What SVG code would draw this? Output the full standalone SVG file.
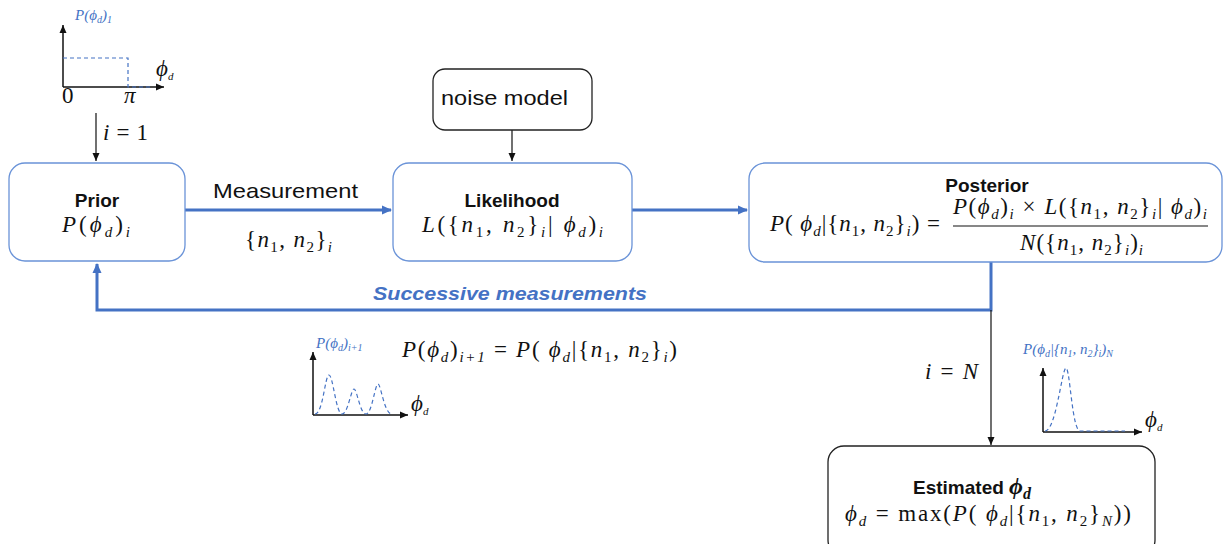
<svg xmlns="http://www.w3.org/2000/svg" width="1227" height="544" viewBox="0 0 1227 544">
<style>
.bbox{fill:#fff;stroke:#6a93d8;stroke-width:1.3}
.kbox{fill:#fff;stroke:#222;stroke-width:1.3}
.lbl{font-family:"Liberation Sans",Arial,sans-serif;font-weight:bold;font-size:19px;fill:#111}
.txt{font-family:"Liberation Sans",Arial,sans-serif;font-size:21px;fill:#111}
.m{font-family:"Liberation Serif","DejaVu Serif",serif;font-size:23px;fill:#111}
.i{font-style:italic}
.s{font-size:15px}
.bm{font-family:"Liberation Serif","DejaVu Serif",serif;font-size:15px;fill:#4472c4;font-style:italic}
.bs{font-size:10px}
.blue{stroke:#4472c4;stroke-width:3;fill:none}
.thin{stroke:#111;stroke-width:1.2;fill:none}
.axis{stroke:#111;stroke-width:1.5;fill:none}
.dash{stroke:#4472c4;stroke-width:1.2;fill:none;stroke-dasharray:4 3}
</style>
<defs>
<marker id="ab" markerUnits="userSpaceOnUse" markerWidth="10" markerHeight="10" refX="9" refY="5" orient="auto"><path d="M0,0.5 L10,5 L0,9.5 Z" fill="#4472c4"/></marker>
<marker id="ak" markerUnits="userSpaceOnUse" markerWidth="8" markerHeight="8" refX="8" refY="4" orient="auto"><path d="M0,0.5 L8,4 L0,7.5 Z" fill="#111"/></marker>
</defs>

<g id="connectors">
<path class="blue" d="M185,210 H391" marker-end="url(#ab)"/>
<path class="blue" d="M632,210 H747" marker-end="url(#ab)"/>
<path class="blue" d="M991,262 V310 H97 V264" marker-end="url(#ab)"/>
<path class="thin" d="M991,310 V445" marker-end="url(#ak)"/>
<path class="thin" d="M512,130 V161" marker-end="url(#ak)"/>
<path class="thin" d="M96,113 V161" marker-end="url(#ak)"/>
<text x="510" y="300" font-family="Liberation Sans,Arial,sans-serif" font-weight="bold" font-style="italic" font-size="19" fill="#4472c4" text-anchor="middle" textLength="274" lengthAdjust="spacingAndGlyphs">Successive measurements</text>
<text class="txt" x="213" y="198" textLength="145" lengthAdjust="spacingAndGlyphs">Measurement</text>
<text class="m" x="245" y="247" textLength="87" lengthAdjust="spacing">{<tspan class="i">n</tspan><tspan class="s" dy="5">1</tspan><tspan dy="-5">, </tspan><tspan class="i">n</tspan><tspan class="s" dy="5">2</tspan><tspan dy="-5">}</tspan><tspan class="s i" dy="5">i</tspan></text>
<text class="m" x="103" y="140" textLength="45" lengthAdjust="spacing"><tspan class="i">i</tspan> = 1</text>
<text class="m" x="925" y="379" textLength="53" lengthAdjust="spacing"><tspan class="i">i</tspan> = <tspan class="i">N</tspan></text>
</g>

<g id="prior">
<rect class="bbox" x="9" y="163" width="176" height="98" rx="16"/>
<text class="lbl" x="97" y="207" text-anchor="middle">Prior</text>
<text class="m" x="62" y="232" textLength="68" lengthAdjust="spacing"><tspan class="i">P</tspan>(<tspan class="i">ϕ</tspan><tspan class="s i" dy="5">d</tspan><tspan dy="-5">)</tspan><tspan class="s i" dy="5">i</tspan></text>
</g>

<g id="likelihood">
<rect class="bbox" x="393" y="163" width="239" height="98" rx="16"/>
<text class="lbl" x="512" y="207" text-anchor="middle">Likelihood</text>
<text class="m" x="422" y="232" textLength="181" lengthAdjust="spacing"><tspan class="i">L</tspan>({<tspan class="i">n</tspan><tspan class="s" dy="5">1</tspan><tspan dy="-5">, </tspan><tspan class="i">n</tspan><tspan class="s" dy="5">2</tspan><tspan dy="-5">}</tspan><tspan class="s i" dy="5">i</tspan><tspan dy="-5">| </tspan><tspan class="i">ϕ</tspan><tspan class="s i" dy="5">d</tspan><tspan dy="-5">)</tspan><tspan class="s i" dy="5">i</tspan></text>
</g>

<g id="noise-model">
<rect class="kbox" x="433" y="69" width="159" height="61" rx="12"/>
<text class="txt" x="441" y="105" textLength="127" lengthAdjust="spacingAndGlyphs">noise model</text>
</g>

<g id="posterior">
<rect class="bbox" x="749" y="163" width="473" height="99" rx="16"/>
<text class="lbl" x="987" y="192" text-anchor="middle">Posterior</text>
<text class="m" x="770" y="231" textLength="170" lengthAdjust="spacing"><tspan class="i">P</tspan>( <tspan class="i">ϕ</tspan><tspan class="s i" dy="5">d</tspan><tspan dy="-5">|{</tspan><tspan class="i">n</tspan><tspan class="s" dy="5">1</tspan><tspan dy="-5">, </tspan><tspan class="i">n</tspan><tspan class="s" dy="5">2</tspan><tspan dy="-5">}</tspan><tspan class="s i" dy="5">i</tspan><tspan dy="-5">) =</tspan></text>
<text class="m" x="953" y="214" textLength="254" lengthAdjust="spacing"><tspan class="i">P</tspan>(<tspan class="i">ϕ</tspan><tspan class="s i" dy="5">d</tspan><tspan dy="-5">)</tspan><tspan class="s i" dy="5">i</tspan><tspan dy="-5"> × </tspan><tspan class="i">L</tspan>({<tspan class="i">n</tspan><tspan class="s" dy="5">1</tspan><tspan dy="-5">, </tspan><tspan class="i">n</tspan><tspan class="s" dy="5">2</tspan><tspan dy="-5">}</tspan><tspan class="s i" dy="5">i</tspan><tspan dy="-5">| </tspan><tspan class="i">ϕ</tspan><tspan class="s i" dy="5">d</tspan><tspan dy="-5">)</tspan><tspan class="s i" dy="5">i</tspan></text>
<line x1="953" y1="226" x2="1208" y2="226" stroke="#111" stroke-width="1.2"/>
<text class="m" x="1020" y="250" textLength="123" lengthAdjust="spacing"><tspan class="i">N</tspan>({<tspan class="i">n</tspan><tspan class="s" dy="5">1</tspan><tspan dy="-5">, </tspan><tspan class="i">n</tspan><tspan class="s" dy="5">2</tspan><tspan dy="-5">}</tspan><tspan class="s i" dy="5">i</tspan><tspan dy="-5">)</tspan><tspan class="s i" dy="5">i</tspan></text>
</g>

<g id="estimated">
<rect class="kbox" x="828" y="446" width="327" height="110" rx="16"/>
<text class="lbl" x="913" y="494">Estimated <tspan font-family="Liberation Serif,DejaVu Serif,serif" font-style="italic" font-size="24">ϕ</tspan><tspan font-family="Liberation Serif,DejaVu Serif,serif" font-style="italic" font-size="16" dy="5">d</tspan></text>
<text class="m" x="845" y="521" textLength="286" lengthAdjust="spacing"><tspan class="i">ϕ</tspan><tspan class="s i" dy="5">d</tspan><tspan dy="-5"> = max(</tspan><tspan class="i">P</tspan>( <tspan class="i">ϕ</tspan><tspan class="s i" dy="5">d</tspan><tspan dy="-5">|{</tspan><tspan class="i">n</tspan><tspan class="s" dy="5">1</tspan><tspan dy="-5">, </tspan><tspan class="i">n</tspan><tspan class="s" dy="5">2</tspan><tspan dy="-5">}</tspan><tspan class="s i" dy="5">N</tspan><tspan dy="-5">))</tspan></text>
</g>

<g id="plot-initial">
<path class="axis" d="M63,87 V25" marker-end="url(#ak)"/>
<path class="axis" d="M63,87 H164" marker-end="url(#ak)"/>
<path class="dash" d="M63,58 H128 V87 H152"/>
<text class="bm" x="75" y="20">P(ϕ<tspan class="bs" dy="3">d</tspan><tspan dy="-3">)</tspan><tspan class="bs" dy="3">1</tspan></text>
<text class="m i" x="156" y="76" font-size="17">ϕ<tspan font-size="11" dy="4">d</tspan></text>
<text class="m" x="62" y="103" font-size="15">0</text>
<text class="m i" x="124" y="103" font-size="16">π</text>
</g>

<g id="plot-prior-update">
<path class="axis" d="M313,415 V352" marker-end="url(#ak)"/>
<path class="axis" d="M313,415 H408" marker-end="url(#ak)"/>
<path class="dash" d="M315,414 C323,414 325,375 329,375 C333,375 336,414 342,414 C348,414 351,389 354,389 C357,389 360,414 366,414 C372,414 375,384 378,384 C381,384 384,414 392,414"/>
<text class="bm" x="316" y="348">P(ϕ<tspan class="bs" dy="3">d</tspan><tspan dy="-3">)</tspan><tspan class="bs" dy="3">i+1</tspan></text>
<text class="m i" x="411" y="411" font-size="17">ϕ<tspan font-size="11" dy="4">d</tspan></text>
<text class="m" x="402" y="357" font-size="24" textLength="275" lengthAdjust="spacing"><tspan class="i">P</tspan>(<tspan class="i">ϕ</tspan><tspan class="s i" dy="5">d</tspan><tspan dy="-5">)</tspan><tspan class="s i" dy="5">i+1</tspan><tspan dy="-5"> = </tspan><tspan class="i">P</tspan>( <tspan class="i">ϕ</tspan><tspan class="s i" dy="5">d</tspan><tspan dy="-5">|{</tspan><tspan class="i">n</tspan><tspan class="s" dy="5">1</tspan><tspan dy="-5">, </tspan><tspan class="i">n</tspan><tspan class="s" dy="5">2</tspan><tspan dy="-5">}</tspan><tspan class="s i" dy="5">i</tspan><tspan dy="-5">)</tspan></text>
</g>

<g id="plot-posterior">
<path class="axis" d="M1043,432 V368" marker-end="url(#ak)"/>
<path class="axis" d="M1043,432 H1142" marker-end="url(#ak)"/>
<path class="dash" d="M1045,431 C1056,431 1062,368 1066,368 C1070,368 1072,430 1080,431 H1125"/>
<text class="bm" x="1023" y="354">P(ϕ<tspan class="bs" dy="3">d</tspan><tspan dy="-3">|{n</tspan><tspan class="bs" dy="3">1</tspan><tspan dy="-3">, n</tspan><tspan class="bs" dy="3">2</tspan><tspan dy="-3">}</tspan><tspan class="bs" dy="3">i</tspan><tspan dy="-3">)</tspan><tspan class="bs" dy="3">N</tspan></text>
<text class="m i" x="1145" y="427" font-size="17">ϕ<tspan font-size="11" dy="4">d</tspan></text>
</g>
</svg>
